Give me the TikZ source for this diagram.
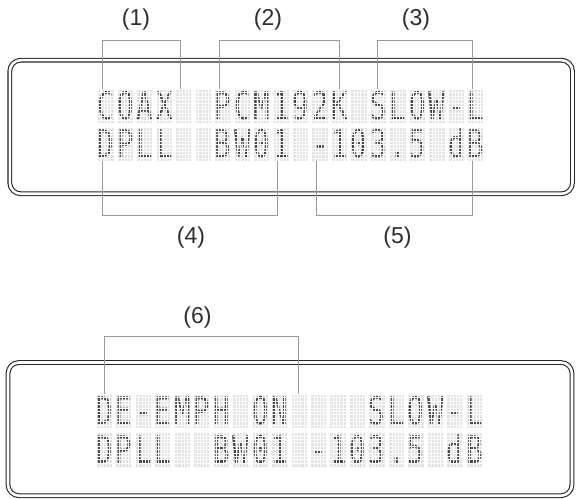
\documentclass[tikz,border=0pt]{standalone}
\usepackage{fontspec}
\usetikzlibrary{calc}
\newfontfamily\lcdfont[FakeStretch=0.72]{DejaVu Sans Mono}
\newfontfamily\labfont{Liberation Sans}
\tikzset{
  lcdcell/.style={rectangle, fill=black!11, minimum width=15.6pt, minimum height=34pt, inner sep=0pt, outer sep=0pt},
  lcdchar/.style={font=\lcdfont\fontsize{38}{38}\selectfont, text=black!72, inner sep=0pt, anchor=base},
  dotgap/.style={draw=white, line width=0.75pt},
  lcdframe/.style={rectangle, draw=black!85, line width=1.1pt, double=white, double distance=2.6pt, rounded corners=11pt, inner sep=0pt},
  bracket/.style={draw=black!40, line width=0.9pt},
  numlab/.style={font=\labfont\fontsize{23}{23}\selectfont, text=black!82, inner sep=0pt}
}
\newcommand\lcdrow[4]{%
  \foreach \lcdch [count=\i from 0] in {#4} {
    \node[lcdcell] (#1\i) at ({#2+19.47*\i+7.8},#3) {};
    \node[lcdchar] (#1t\i) at ($(#1\i.south)+(0,3.5)$) {\lcdch};
    \begin{scope}[shift={(#1\i.south west)}]
      \draw[dotgap] (0.01,0.01) grid[xstep=3.12,ystep=3.4] (15.59,33.99);
    \end{scope}
  }}
\begin{document}
\begin{tikzpicture}[x=1pt,y=1pt]
\useasboundingbox (0,0) rectangle (578,498);
% display frames
\node[lcdframe, minimum width=562.7pt, minimum height=133.6pt] (disp1) at (291.15,371) {};
\node[lcdframe, minimum width=564pt, minimum height=133.2pt] (disp2) at (290,68.9) {};
% LCD rows
\lcdrow{a}{98.3}{391.7}{C,O,A,X,{},{},P,C,M,1,9,2,K,{},S,L,O,W,-,L}
\lcdrow{b}{98.3}{353.5}{D,P,L,L,{},{},B,W,0,1,{},-,1,0,3,.,5,{},d,B}
\lcdrow{c}{96.8}{86.7}{D,E,-,E,M,P,H,{},O,N,{},{},{},{},S,L,O,W,-,L}
\lcdrow{d}{96.8}{48.5}{D,P,L,L,{},{},B,W,0,1,{},-,1,0,3,.,5,{},d,B}
% brackets
\draw[bracket] ($(a0.north west)+(4.4,0)$) |- ($(a4.north west)+(3.8,49.3)$) -- ($(a4.north west)+(3.8,0)$);
\draw[bracket] ($(a6.north west)+(3.9,0)$) |- ($(a12.north west)+(7.3,49.3)$) -- ($(a12.north west)+(7.3,0)$);
\draw[bracket] ($(a14.north west)+(6.8,0)$) |- ($(a19.north west)+(4.1,49.3)$) -- ($(a19.north west)+(4.1,0)$);
\draw[bracket] ($(b0.south west)+(4.4,0)$) |- ($(b9.south west)+(4.2,-54.2)$) -- ($(b9.south west)+(4.2,0)$);
\draw[bracket] ($(b11.south west)+(4.2,0)$) |- ($(b19.south west)+(4.1,-54.2)$) -- ($(b19.south west)+(4.1,0)$);
\draw[bracket] ($(c0.north west)+(7.2,0)$) |- ($(c10.north west)+(6.8,58.3)$) -- ($(c10.north west)+(6.8,0)$);
% labels
\node[numlab] (l1) at (136,478) {(1)};
\node[numlab] (l2) at (268,478) {(2)};
\node[numlab] (l3) at (416,478) {(3)};
\node[numlab] (l4) at (191,260) {(4)};
\node[numlab] (l5) at (397.5,260) {(5)};
\node[numlab] (l6) at (197.5,180) {(6)};
\end{tikzpicture}
\end{document}
